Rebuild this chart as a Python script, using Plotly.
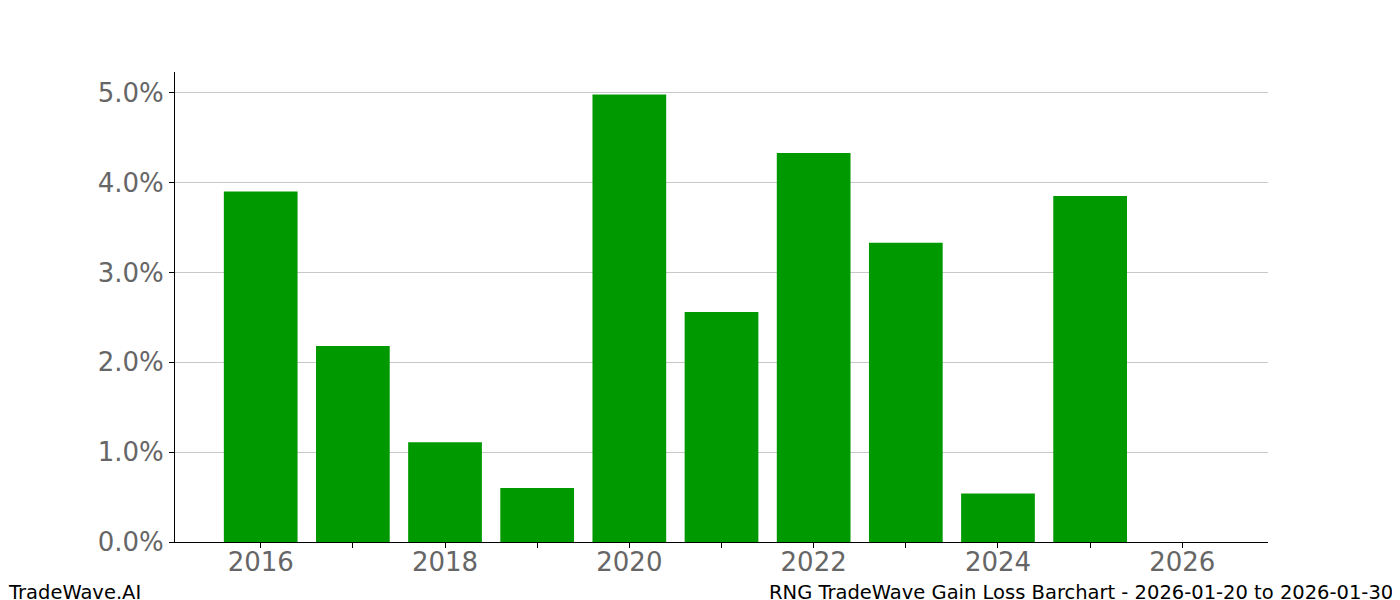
import plotly.graph_objects as go

years = [2016, 2017, 2018, 2019, 2020, 2021, 2022, 2023, 2024, 2025]
gains = [3.90, 2.18, 1.11, 0.60, 4.98, 2.56, 4.33, 3.33, 0.54, 3.85]
tick_years = list(range(2016, 2027))
tick_text = [str(y) if y % 2 == 0 else "" for y in tick_years]

fig = go.Figure()
fig.add_trace(go.Bar(x=years, y=gains, width=0.8, marker=dict(color="#009900", line=dict(width=0))))

# page body adds 8px, so the figure is a little smaller than the window
fig.update_layout(
    width=1392, height=592,
    paper_bgcolor="white", plot_bgcolor="white",
    margin=dict(l=167, r=132, t=64, b=58),
    showlegend=False,
    font=dict(family="DejaVu Sans"),
    xaxis=dict(range=[2015.07, 2026.93], tickvals=tick_years, ticktext=tick_text,
               ticks="outside", ticklen=5, tickcolor="black",
               ticklabelstandoff=-8,
               tickfont=dict(size=26, color="#666666"),
               showline=True, linecolor="black", showgrid=False, zeroline=False),
    yaxis=dict(range=[0, 5.23], tickvals=[0, 1, 2, 3, 4, 5],
               ticktext=["0.0%", "1.0%", "2.0%", "3.0%", "4.0%", "5.0%"],
               ticks="outside", ticklen=5, tickcolor="black",
               tickfont=dict(size=26, color="#666666"),
               showline=True, linecolor="black", showgrid=True, gridcolor="#c8c8c8",
               zeroline=False),
)
# footer, placed in paper units relative to the 1085x462 plot area
fig.add_annotation(text="TradeWave.AI", xref="paper", yref="paper",
                   x=-168/1085, y=-64/470, xanchor="left", yanchor="bottom",
                   showarrow=False, font=dict(size=19.5, color="black"))
fig.add_annotation(text="RNG TradeWave Gain Loss Barchart - 2026-01-20 to 2026-01-30",
                   xref="paper", yref="paper", x=1 + 126/1085, y=-64/470,
                   xanchor="right", yanchor="bottom",
                   showarrow=False, font=dict(size=19.5, color="black"))
fig.write_html("out.html")
